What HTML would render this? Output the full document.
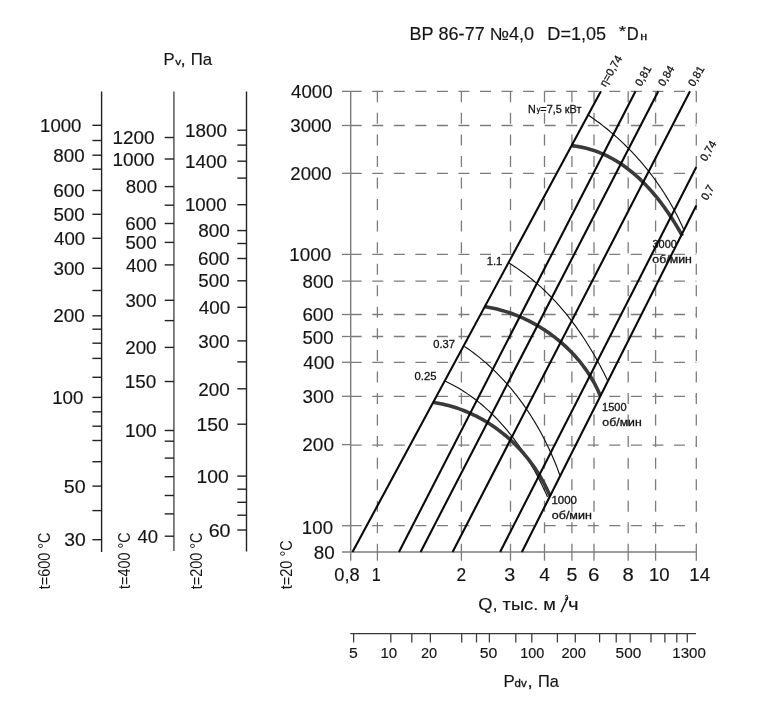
<!DOCTYPE html>
<html><head><meta charset="utf-8"><style>
html,body{margin:0;padding:0;background:#fff;width:759px;height:710px;overflow:hidden}
svg{display:block;will-change:transform}
text{font-family:"Liberation Sans", sans-serif}
</style></head><body>
<svg width="759" height="710" viewBox="0 0 759 710" font-family='"Liberation Sans", sans-serif'>
<rect width="759" height="710" fill="#fff"/>
<line x1="350.70" y1="91.30" x2="696.30" y2="91.30" stroke="#7c7c7c" stroke-width="1.3" stroke-dasharray="11 10.55"/>
<line x1="342.00" y1="91.30" x2="350.70" y2="91.30" stroke="#7c7c7c" stroke-width="1.3" />
<line x1="350.70" y1="125.50" x2="696.30" y2="125.50" stroke="#7c7c7c" stroke-width="1.3" stroke-dasharray="11 10.55"/>
<line x1="342.00" y1="125.50" x2="350.70" y2="125.50" stroke="#7c7c7c" stroke-width="1.3" />
<line x1="350.70" y1="173.30" x2="696.30" y2="173.30" stroke="#7c7c7c" stroke-width="1.3" stroke-dasharray="11 10.55"/>
<line x1="342.00" y1="173.30" x2="350.70" y2="173.30" stroke="#7c7c7c" stroke-width="1.3" />
<line x1="350.70" y1="254.40" x2="696.30" y2="254.40" stroke="#7c7c7c" stroke-width="1.3" stroke-dasharray="11 10.55"/>
<line x1="342.00" y1="254.40" x2="350.70" y2="254.40" stroke="#7c7c7c" stroke-width="1.3" />
<line x1="350.70" y1="281.10" x2="696.30" y2="281.10" stroke="#7c7c7c" stroke-width="1.3" stroke-dasharray="11 10.55"/>
<line x1="342.00" y1="281.10" x2="350.70" y2="281.10" stroke="#7c7c7c" stroke-width="1.3" />
<line x1="350.70" y1="314.50" x2="696.30" y2="314.50" stroke="#7c7c7c" stroke-width="1.3" stroke-dasharray="11 10.55"/>
<line x1="342.00" y1="314.50" x2="350.70" y2="314.50" stroke="#7c7c7c" stroke-width="1.3" />
<line x1="350.70" y1="336.50" x2="696.30" y2="336.50" stroke="#7c7c7c" stroke-width="1.3" stroke-dasharray="11 10.55"/>
<line x1="342.00" y1="336.50" x2="350.70" y2="336.50" stroke="#7c7c7c" stroke-width="1.3" />
<line x1="350.70" y1="362.30" x2="696.30" y2="362.30" stroke="#7c7c7c" stroke-width="1.3" stroke-dasharray="11 10.55"/>
<line x1="342.00" y1="362.30" x2="350.70" y2="362.30" stroke="#7c7c7c" stroke-width="1.3" />
<line x1="350.70" y1="396.30" x2="696.30" y2="396.30" stroke="#7c7c7c" stroke-width="1.3" stroke-dasharray="11 10.55"/>
<line x1="342.00" y1="396.30" x2="350.70" y2="396.30" stroke="#7c7c7c" stroke-width="1.3" />
<line x1="350.70" y1="445.10" x2="696.30" y2="445.10" stroke="#7c7c7c" stroke-width="1.3" stroke-dasharray="11 10.55"/>
<line x1="342.00" y1="444.60" x2="350.70" y2="444.60" stroke="#7c7c7c" stroke-width="1.3" />
<line x1="350.70" y1="525.70" x2="696.30" y2="525.70" stroke="#7c7c7c" stroke-width="1.3" stroke-dasharray="11 10.55"/>
<line x1="342.00" y1="525.70" x2="350.70" y2="525.70" stroke="#7c7c7c" stroke-width="1.3" />
<line x1="377.40" y1="91.30" x2="377.40" y2="552.00" stroke="#7c7c7c" stroke-width="1.3" stroke-dasharray="11 10.55"/>
<line x1="377.40" y1="552.00" x2="377.40" y2="560.70" stroke="#7c7c7c" stroke-width="1.3" />
<line x1="461.40" y1="91.30" x2="461.40" y2="552.00" stroke="#7c7c7c" stroke-width="1.3" stroke-dasharray="11 10.55"/>
<line x1="461.40" y1="552.00" x2="461.40" y2="560.70" stroke="#7c7c7c" stroke-width="1.3" />
<line x1="510.50" y1="91.30" x2="510.50" y2="552.00" stroke="#7c7c7c" stroke-width="1.3" stroke-dasharray="11 10.55"/>
<line x1="510.50" y1="552.00" x2="510.50" y2="560.70" stroke="#7c7c7c" stroke-width="1.3" />
<line x1="544.50" y1="91.30" x2="544.50" y2="552.00" stroke="#7c7c7c" stroke-width="1.3" stroke-dasharray="11 10.55"/>
<line x1="544.50" y1="552.00" x2="544.50" y2="560.70" stroke="#7c7c7c" stroke-width="1.3" />
<line x1="571.90" y1="91.30" x2="571.90" y2="552.00" stroke="#7c7c7c" stroke-width="1.3" stroke-dasharray="11 10.55"/>
<line x1="571.90" y1="552.00" x2="571.90" y2="560.70" stroke="#7c7c7c" stroke-width="1.3" />
<line x1="594.00" y1="91.30" x2="594.00" y2="552.00" stroke="#7c7c7c" stroke-width="1.3" stroke-dasharray="11 10.55"/>
<line x1="594.00" y1="552.00" x2="594.00" y2="560.70" stroke="#7c7c7c" stroke-width="1.3" />
<line x1="628.20" y1="91.30" x2="628.20" y2="552.00" stroke="#7c7c7c" stroke-width="1.3" stroke-dasharray="11 10.55"/>
<line x1="628.20" y1="552.00" x2="628.20" y2="560.70" stroke="#7c7c7c" stroke-width="1.3" />
<line x1="655.60" y1="91.30" x2="655.60" y2="552.00" stroke="#7c7c7c" stroke-width="1.3" stroke-dasharray="11 10.55"/>
<line x1="655.60" y1="552.00" x2="655.60" y2="560.70" stroke="#7c7c7c" stroke-width="1.3" />
<line x1="696.30" y1="91.30" x2="696.30" y2="552.00" stroke="#7c7c7c" stroke-width="1.3" stroke-dasharray="11 10.55"/>
<line x1="696.30" y1="552.00" x2="696.30" y2="560.70" stroke="#7c7c7c" stroke-width="1.3" />
<line x1="350.70" y1="91.30" x2="350.70" y2="560.70" stroke="#7c7c7c" stroke-width="1.4" />
<line x1="342.00" y1="552.00" x2="696.30" y2="552.00" stroke="#7c7c7c" stroke-width="1.6" />
<path d="M588.21,115.01 L590.33,116.46 L592.45,117.93 L594.54,119.42 L596.63,120.94 L598.70,122.47 L600.75,124.02 L602.79,125.60 L604.81,127.19 L606.82,128.80 L608.81,130.44 L610.78,132.09 L612.74,133.76 L614.68,135.45 L616.61,137.16 L618.52,138.88 L620.41,140.63 L622.29,142.39 L624.15,144.17 L625.99,145.97 L627.82,147.78 L629.63,149.62 L631.42,151.47 L633.19,153.34 L634.95,155.22 L636.69,157.12 L638.41,159.04 L640.11,160.97 L641.79,162.92 L643.45,164.89 L645.10,166.87 L646.73,168.86 L648.34,170.87 L649.92,172.90 L651.49,174.94 L653.04,177.00 L654.58,179.07 L656.09,181.15 L657.58,183.25 L659.05,185.37 L660.50,187.49 L661.93,189.63 L663.34,191.79 L664.73,193.95 L666.10,196.13 L667.45,198.33 L668.78,200.53 L670.08,202.75 L671.37,204.98 L672.63,207.22 L673.87,209.48 L675.09,211.74 L676.29,214.02 L677.46,216.31 L678.62,218.61 L679.75,220.92 L680.86,223.24 L681.94,225.57 L683.01,227.92 L684.05,230.27" fill="none" stroke="#111" stroke-width="1.15" stroke-linejoin="round"/>
<path d="M508.76,262.87 L511.03,264.27 L513.27,265.70 L515.49,267.16 L517.68,268.64 L519.86,270.16 L522.01,271.69 L524.14,273.26 L526.25,274.85 L528.34,276.46 L530.40,278.10 L532.45,279.76 L534.47,281.45 L536.47,283.16 L538.45,284.90 L540.41,286.65 L542.35,288.43 L544.27,290.23 L546.17,292.06 L548.05,293.90 L549.90,295.77 L551.74,297.65 L553.56,299.56 L555.35,301.48 L557.13,303.42 L558.89,305.39 L560.62,307.37 L562.34,309.37 L564.04,311.38 L565.72,313.41 L567.37,315.46 L569.01,317.53 L570.63,319.61 L572.24,321.71 L573.82,323.82 L575.38,325.95 L576.93,328.09 L578.45,330.25 L579.96,332.42 L581.45,334.60 L582.92,336.80 L584.37,339.01 L585.81,341.23 L587.23,343.46 L588.62,345.70 L590.01,347.96 L591.37,350.22 L592.72,352.49 L594.04,354.78 L595.36,357.07 L596.65,359.37 L597.93,361.68 L599.19,364.00 L600.43,366.32 L601.66,368.66 L602.87,371.00 L604.06,373.34 L605.24,375.70 L606.40,378.05 L607.54,380.42" fill="none" stroke="#111" stroke-width="1.15" stroke-linejoin="round"/>
<path d="M464.45,346.46 L466.73,347.99 L468.98,349.55 L471.22,351.15 L473.43,352.77 L475.62,354.43 L477.79,356.12 L479.94,357.83 L482.06,359.58 L484.17,361.36 L486.25,363.16 L488.31,364.99 L490.35,366.85 L492.37,368.74 L494.36,370.65 L496.34,372.59 L498.29,374.55 L500.22,376.54 L502.12,378.55 L504.01,380.58 L505.87,382.64 L507.70,384.72 L509.52,386.83 L511.31,388.95 L513.08,391.10 L514.83,393.27 L516.55,395.46 L518.25,397.66 L519.93,399.89 L521.59,402.13 L523.22,404.40 L524.82,406.68 L526.41,408.98 L527.97,411.29 L529.50,413.62 L531.02,415.96 L532.50,418.33 L533.97,420.70 L535.41,423.09 L536.83,425.49 L538.22,427.91 L539.59,430.33 L540.93,432.77 L542.25,435.22 L543.55,437.69 L544.82,440.16 L546.06,442.64 L547.28,445.13 L548.48,447.63 L549.65,450.14 L550.80,452.65 L551.92,455.18 L553.02,457.71 L554.09,460.24 L555.13,462.79 L556.15,465.33 L557.15,467.88 L558.12,470.44 L559.06,473.00 L559.98,475.56" fill="none" stroke="#111" stroke-width="1.15" stroke-linejoin="round"/>
<path d="M445.05,381.04 L447.48,382.20 L449.90,383.40 L452.28,384.64 L454.64,385.92 L456.98,387.24 L459.29,388.59 L461.57,389.99 L463.83,391.41 L466.07,392.88 L468.28,394.38 L470.47,395.91 L472.63,397.48 L474.77,399.08 L476.88,400.71 L478.97,402.38 L481.04,404.07 L483.08,405.80 L485.10,407.56 L487.09,409.34 L489.06,411.16 L491.00,413.00 L492.92,414.86 L494.82,416.76 L496.69,418.68 L498.54,420.63 L500.36,422.60 L502.16,424.59 L503.94,426.61 L505.69,428.65 L507.42,430.71 L509.13,432.79 L510.81,434.89 L512.47,437.02 L514.10,439.16 L515.72,441.32 L517.31,443.50 L518.87,445.69 L520.41,447.90 L521.93,450.13 L523.43,452.38 L524.90,454.63 L526.35,456.90 L527.78,459.19 L529.18,461.49 L530.56,463.80 L531.92,466.12 L533.26,468.45 L534.57,470.79 L535.86,473.14 L537.13,475.50 L538.37,477.87 L539.60,480.24 L540.80,482.62 L541.98,485.01 L543.13,487.40 L544.26,489.80 L545.37,492.20 L546.46,494.60 L547.53,497.01" fill="none" stroke="#111" stroke-width="1.15" stroke-linejoin="round"/>
<path d="M571.04,145.58 L573.66,145.87 L576.26,146.23 L578.83,146.65 L581.38,147.13 L583.90,147.67 L586.39,148.27 L588.85,148.93 L591.29,149.65 L593.70,150.42 L596.09,151.25 L598.44,152.14 L600.78,153.07 L603.08,154.06 L605.36,155.10 L607.61,156.19 L609.84,157.33 L612.04,158.51 L614.22,159.74 L616.37,161.02 L618.49,162.34 L620.59,163.70 L622.66,165.10 L624.71,166.55 L626.74,168.03 L628.73,169.56 L630.71,171.11 L632.65,172.71 L634.58,174.34 L636.48,176.00 L638.35,177.70 L640.20,179.43 L642.02,181.19 L643.82,182.98 L645.60,184.79 L647.35,186.63 L649.08,188.50 L650.78,190.39 L652.46,192.31 L654.12,194.25 L655.75,196.21 L657.36,198.19 L658.94,200.19 L660.51,202.20 L662.05,204.24 L663.56,206.29 L665.05,208.35 L666.52,210.43 L667.97,212.52 L669.39,214.62 L670.79,216.73 L672.17,218.84 L673.52,220.97 L674.86,223.10 L676.17,225.24 L677.46,227.38 L678.72,229.53 L679.97,231.67 L681.19,233.82 L682.39,235.97" fill="none" stroke="#3a3a3a" stroke-width="3.6" stroke-linecap="butt" stroke-linejoin="round"/>
<path d="M484.41,306.59 L486.93,306.99 L489.44,307.44 L491.94,307.94 L494.44,308.48 L496.94,309.07 L499.42,309.71 L501.90,310.39 L504.37,311.11 L506.84,311.88 L509.29,312.70 L511.73,313.55 L514.15,314.45 L516.57,315.40 L518.97,316.38 L521.36,317.41 L523.73,318.48 L526.09,319.59 L528.43,320.73 L530.75,321.92 L533.06,323.15 L535.34,324.41 L537.61,325.71 L539.86,327.05 L542.08,328.43 L544.28,329.85 L546.46,331.29 L548.62,332.78 L550.75,334.30 L552.86,335.85 L554.94,337.44 L556.99,339.06 L559.02,340.72 L561.01,342.41 L562.98,344.13 L564.92,345.88 L566.83,347.66 L568.70,349.47 L570.55,351.31 L572.36,353.18 L574.13,355.08 L575.88,357.01 L577.58,358.97 L579.25,360.96 L580.89,362.97 L582.48,365.00 L584.04,367.07 L585.55,369.16 L587.03,371.27 L588.47,373.41 L589.86,375.57 L591.21,377.76 L592.52,379.97 L593.78,382.20 L595.00,384.46 L596.18,386.73 L597.30,389.03 L598.38,391.34 L599.41,393.68 L600.39,396.04" fill="none" stroke="#3a3a3a" stroke-width="3.6" stroke-linecap="butt" stroke-linejoin="round"/>
<path d="M432.78,402.32 L435.44,402.73 L438.09,403.19 L440.72,403.70 L443.33,404.26 L445.94,404.88 L448.52,405.54 L451.09,406.25 L453.64,407.01 L456.18,407.82 L458.69,408.67 L461.19,409.57 L463.67,410.52 L466.13,411.51 L468.57,412.55 L470.99,413.63 L473.38,414.76 L475.76,415.93 L478.11,417.14 L480.45,418.39 L482.76,419.68 L485.04,421.02 L487.30,422.39 L489.54,423.81 L491.76,425.26 L493.95,426.75 L496.11,428.28 L498.25,429.85 L500.36,431.45 L502.44,433.09 L504.50,434.76 L506.52,436.47 L508.52,438.21 L510.49,439.99 L512.44,441.80 L514.35,443.64 L516.23,445.51 L518.08,447.42 L519.90,449.35 L521.68,451.32 L523.44,453.31 L525.16,455.34 L526.85,457.39 L528.51,459.47 L530.13,461.58 L531.72,463.71 L533.27,465.87 L534.79,468.05 L536.27,470.26 L537.71,472.49 L539.12,474.75 L540.49,477.03 L541.82,479.33 L543.11,481.66 L544.37,484.00 L545.58,486.37 L546.76,488.75 L547.89,491.15 L548.99,493.58 L550.04,496.02" fill="none" stroke="#3a3a3a" stroke-width="3.6" stroke-linecap="butt" stroke-linejoin="round"/>
<line x1="352.50" y1="552.00" x2="600.90" y2="91.30" stroke="#0a0a0a" stroke-width="2.1" stroke-linecap="butt"/>
<line x1="399.00" y1="552.00" x2="635.50" y2="91.30" stroke="#0a0a0a" stroke-width="2.1" stroke-linecap="butt"/>
<line x1="420.60" y1="552.00" x2="658.30" y2="91.30" stroke="#0a0a0a" stroke-width="2.1" stroke-linecap="butt"/>
<line x1="452.60" y1="552.00" x2="690.00" y2="91.30" stroke="#0a0a0a" stroke-width="2.1" stroke-linecap="butt"/>
<line x1="500.10" y1="552.00" x2="696.30" y2="167.00" stroke="#0a0a0a" stroke-width="2.1" stroke-linecap="butt"/>
<line x1="521.90" y1="552.00" x2="696.30" y2="205.50" stroke="#0a0a0a" stroke-width="2.1" stroke-linecap="butt"/>
<line x1="101.60" y1="91.50" x2="101.60" y2="552.00" stroke="#222222" stroke-width="1.4" />
<line x1="92.40" y1="125.30" x2="101.60" y2="125.30" stroke="#222222" stroke-width="1.4" />
<line x1="92.40" y1="140.50" x2="101.60" y2="140.50" stroke="#222222" stroke-width="1.4" />
<line x1="92.40" y1="155.20" x2="101.60" y2="155.20" stroke="#222222" stroke-width="1.4" />
<line x1="92.40" y1="169.20" x2="101.60" y2="169.20" stroke="#222222" stroke-width="1.4" />
<line x1="92.40" y1="190.50" x2="101.60" y2="190.50" stroke="#222222" stroke-width="1.4" />
<line x1="92.40" y1="214.30" x2="101.60" y2="214.30" stroke="#222222" stroke-width="1.4" />
<line x1="92.40" y1="238.30" x2="101.60" y2="238.30" stroke="#222222" stroke-width="1.4" />
<line x1="92.40" y1="268.30" x2="101.60" y2="268.30" stroke="#222222" stroke-width="1.4" />
<line x1="92.40" y1="290.50" x2="101.60" y2="290.50" stroke="#222222" stroke-width="1.4" />
<line x1="92.40" y1="315.80" x2="101.60" y2="315.80" stroke="#222222" stroke-width="1.4" />
<line x1="92.40" y1="329.20" x2="101.60" y2="329.20" stroke="#222222" stroke-width="1.4" />
<line x1="92.40" y1="343.20" x2="101.60" y2="343.20" stroke="#222222" stroke-width="1.4" />
<line x1="92.40" y1="358.40" x2="101.60" y2="358.40" stroke="#222222" stroke-width="1.4" />
<line x1="92.40" y1="377.30" x2="101.60" y2="377.30" stroke="#222222" stroke-width="1.4" />
<line x1="92.40" y1="397.40" x2="101.60" y2="397.40" stroke="#222222" stroke-width="1.4" />
<line x1="92.40" y1="411.80" x2="101.60" y2="411.80" stroke="#222222" stroke-width="1.4" />
<line x1="92.40" y1="426.20" x2="101.60" y2="426.20" stroke="#222222" stroke-width="1.4" />
<line x1="92.40" y1="440.50" x2="101.60" y2="440.50" stroke="#222222" stroke-width="1.4" />
<line x1="92.40" y1="461.70" x2="101.60" y2="461.70" stroke="#222222" stroke-width="1.4" />
<line x1="92.40" y1="486.10" x2="101.60" y2="486.10" stroke="#222222" stroke-width="1.4" />
<line x1="92.40" y1="510.60" x2="101.60" y2="510.60" stroke="#222222" stroke-width="1.4" />
<line x1="92.40" y1="539.70" x2="101.60" y2="539.70" stroke="#222222" stroke-width="1.4" />
<line x1="173.90" y1="91.50" x2="173.90" y2="551.00" stroke="#6c6c6c" stroke-width="1.7" />
<line x1="164.70" y1="137.50" x2="173.90" y2="137.50" stroke="#222222" stroke-width="1.4" />
<line x1="164.70" y1="159.00" x2="173.90" y2="159.00" stroke="#222222" stroke-width="1.4" />
<line x1="164.70" y1="186.60" x2="173.90" y2="186.60" stroke="#222222" stroke-width="1.4" />
<line x1="164.70" y1="205.20" x2="173.90" y2="205.20" stroke="#222222" stroke-width="1.4" />
<line x1="164.70" y1="223.50" x2="173.90" y2="223.50" stroke="#222222" stroke-width="1.4" />
<line x1="164.70" y1="242.40" x2="173.90" y2="242.40" stroke="#222222" stroke-width="1.4" />
<line x1="164.70" y1="264.90" x2="173.90" y2="264.90" stroke="#222222" stroke-width="1.4" />
<line x1="164.70" y1="300.30" x2="173.90" y2="300.30" stroke="#222222" stroke-width="1.4" />
<line x1="164.70" y1="320.60" x2="173.90" y2="320.60" stroke="#222222" stroke-width="1.4" />
<line x1="164.70" y1="347.40" x2="173.90" y2="347.40" stroke="#222222" stroke-width="1.4" />
<line x1="164.70" y1="381.50" x2="173.90" y2="381.50" stroke="#222222" stroke-width="1.4" />
<line x1="164.70" y1="430.50" x2="173.90" y2="430.50" stroke="#222222" stroke-width="1.4" />
<line x1="164.70" y1="441.20" x2="173.90" y2="441.20" stroke="#222222" stroke-width="1.4" />
<line x1="164.70" y1="458.10" x2="173.90" y2="458.10" stroke="#222222" stroke-width="1.4" />
<line x1="164.70" y1="476.70" x2="173.90" y2="476.70" stroke="#222222" stroke-width="1.4" />
<line x1="164.70" y1="495.50" x2="173.90" y2="495.50" stroke="#222222" stroke-width="1.4" />
<line x1="164.70" y1="513.90" x2="173.90" y2="513.90" stroke="#222222" stroke-width="1.4" />
<line x1="164.70" y1="536.20" x2="173.90" y2="536.20" stroke="#222222" stroke-width="1.4" />
<line x1="246.50" y1="91.50" x2="246.50" y2="551.60" stroke="#222222" stroke-width="1.4" />
<line x1="237.30" y1="130.20" x2="246.50" y2="130.20" stroke="#222222" stroke-width="1.4" />
<line x1="237.30" y1="145.10" x2="246.50" y2="145.10" stroke="#222222" stroke-width="1.4" />
<line x1="237.30" y1="161.20" x2="246.50" y2="161.20" stroke="#222222" stroke-width="1.4" />
<line x1="237.30" y1="178.10" x2="246.50" y2="178.10" stroke="#222222" stroke-width="1.4" />
<line x1="237.30" y1="204.70" x2="246.50" y2="204.70" stroke="#222222" stroke-width="1.4" />
<line x1="237.30" y1="230.60" x2="246.50" y2="230.60" stroke="#222222" stroke-width="1.4" />
<line x1="237.30" y1="243.50" x2="246.50" y2="243.50" stroke="#222222" stroke-width="1.4" />
<line x1="237.30" y1="258.50" x2="246.50" y2="258.50" stroke="#222222" stroke-width="1.4" />
<line x1="237.30" y1="280.80" x2="246.50" y2="280.80" stroke="#222222" stroke-width="1.4" />
<line x1="237.30" y1="307.30" x2="246.50" y2="307.30" stroke="#222222" stroke-width="1.4" />
<line x1="237.30" y1="340.90" x2="246.50" y2="340.90" stroke="#222222" stroke-width="1.4" />
<line x1="237.30" y1="361.90" x2="246.50" y2="361.90" stroke="#222222" stroke-width="1.4" />
<line x1="237.30" y1="388.80" x2="246.50" y2="388.80" stroke="#222222" stroke-width="1.4" />
<line x1="237.30" y1="424.20" x2="246.50" y2="424.20" stroke="#222222" stroke-width="1.4" />
<line x1="237.30" y1="476.10" x2="246.50" y2="476.10" stroke="#222222" stroke-width="1.4" />
<line x1="237.30" y1="489.20" x2="246.50" y2="489.20" stroke="#222222" stroke-width="1.4" />
<line x1="237.30" y1="502.30" x2="246.50" y2="502.30" stroke="#222222" stroke-width="1.4" />
<line x1="237.30" y1="515.20" x2="246.50" y2="515.20" stroke="#222222" stroke-width="1.4" />
<line x1="237.30" y1="530.00" x2="246.50" y2="530.00" stroke="#222222" stroke-width="1.4" />
<text x="40.08" y="131.90" font-size="17.6" textLength="41.34" lengthAdjust="spacingAndGlyphs" fill="#141414" stroke="#141414" stroke-width="0.15" >1000</text>
<text x="53.38" y="161.50" font-size="17.6" textLength="31.35" lengthAdjust="spacingAndGlyphs" fill="#141414" stroke="#141414" stroke-width="0.15" >800</text>
<text x="53.24" y="197.30" font-size="17.6" textLength="31.50" lengthAdjust="spacingAndGlyphs" fill="#141414" stroke="#141414" stroke-width="0.15" >600</text>
<text x="53.45" y="220.60" font-size="17.6" textLength="31.28" lengthAdjust="spacingAndGlyphs" fill="#141414" stroke="#141414" stroke-width="0.15" >500</text>
<text x="54.07" y="244.60" font-size="17.6" textLength="31.05" lengthAdjust="spacingAndGlyphs" fill="#141414" stroke="#141414" stroke-width="0.15" >400</text>
<text x="53.49" y="275.00" font-size="17.6" textLength="31.24" lengthAdjust="spacingAndGlyphs" fill="#141414" stroke="#141414" stroke-width="0.15" >300</text>
<text x="53.25" y="322.40" font-size="17.6" textLength="31.49" lengthAdjust="spacingAndGlyphs" fill="#141414" stroke="#141414" stroke-width="0.15" >200</text>
<text x="52.17" y="404.20" font-size="17.6" textLength="31.26" lengthAdjust="spacingAndGlyphs" fill="#141414" stroke="#141414" stroke-width="0.15" >100</text>
<text x="63.81" y="492.80" font-size="17.6" textLength="21.85" lengthAdjust="spacingAndGlyphs" fill="#141414" stroke="#141414" stroke-width="0.15" >50</text>
<text x="64.26" y="546.40" font-size="17.6" textLength="21.49" lengthAdjust="spacingAndGlyphs" fill="#141414" stroke="#141414" stroke-width="0.15" >30</text>
<text x="112.46" y="144.30" font-size="17.6" textLength="42.08" lengthAdjust="spacingAndGlyphs" fill="#141414" stroke="#141414" stroke-width="0.15" >1200</text>
<text x="112.46" y="165.80" font-size="17.6" textLength="42.08" lengthAdjust="spacingAndGlyphs" fill="#141414" stroke="#141414" stroke-width="0.15" >1000</text>
<text x="125.89" y="193.20" font-size="17.6" textLength="31.14" lengthAdjust="spacingAndGlyphs" fill="#141414" stroke="#141414" stroke-width="0.15" >800</text>
<text x="125.25" y="230.10" font-size="17.6" textLength="31.28" lengthAdjust="spacingAndGlyphs" fill="#141414" stroke="#141414" stroke-width="0.15" >600</text>
<text x="125.45" y="249.00" font-size="17.6" textLength="31.07" lengthAdjust="spacingAndGlyphs" fill="#141414" stroke="#141414" stroke-width="0.15" >500</text>
<text x="126.08" y="271.50" font-size="17.6" textLength="30.85" lengthAdjust="spacingAndGlyphs" fill="#141414" stroke="#141414" stroke-width="0.15" >400</text>
<text x="125.49" y="306.90" font-size="17.6" textLength="31.04" lengthAdjust="spacingAndGlyphs" fill="#141414" stroke="#141414" stroke-width="0.15" >300</text>
<text x="125.26" y="354.00" font-size="17.6" textLength="31.27" lengthAdjust="spacingAndGlyphs" fill="#141414" stroke="#141414" stroke-width="0.15" >200</text>
<text x="124.76" y="388.10" font-size="17.6" textLength="31.58" lengthAdjust="spacingAndGlyphs" fill="#141414" stroke="#141414" stroke-width="0.15" >150</text>
<text x="124.95" y="437.20" font-size="17.6" textLength="31.69" lengthAdjust="spacingAndGlyphs" fill="#141414" stroke="#141414" stroke-width="0.15" >100</text>
<text x="137.58" y="542.70" font-size="17.6" textLength="20.55" lengthAdjust="spacingAndGlyphs" fill="#141414" stroke="#141414" stroke-width="0.15" >40</text>
<text x="184.96" y="137.10" font-size="17.6" textLength="41.97" lengthAdjust="spacingAndGlyphs" fill="#141414" stroke="#141414" stroke-width="0.15" >1800</text>
<text x="184.96" y="167.80" font-size="17.6" textLength="41.97" lengthAdjust="spacingAndGlyphs" fill="#141414" stroke="#141414" stroke-width="0.15" >1400</text>
<text x="184.98" y="211.00" font-size="17.6" textLength="41.55" lengthAdjust="spacingAndGlyphs" fill="#141414" stroke="#141414" stroke-width="0.15" >1000</text>
<text x="198.28" y="236.60" font-size="17.6" textLength="31.67" lengthAdjust="spacingAndGlyphs" fill="#141414" stroke="#141414" stroke-width="0.15" >800</text>
<text x="198.14" y="264.80" font-size="17.6" textLength="31.50" lengthAdjust="spacingAndGlyphs" fill="#141414" stroke="#141414" stroke-width="0.15" >600</text>
<text x="198.35" y="287.20" font-size="17.6" textLength="31.28" lengthAdjust="spacingAndGlyphs" fill="#141414" stroke="#141414" stroke-width="0.15" >500</text>
<text x="198.67" y="313.90" font-size="17.6" textLength="31.47" lengthAdjust="spacingAndGlyphs" fill="#141414" stroke="#141414" stroke-width="0.15" >400</text>
<text x="198.39" y="347.80" font-size="17.6" textLength="31.24" lengthAdjust="spacingAndGlyphs" fill="#141414" stroke="#141414" stroke-width="0.15" >300</text>
<text x="198.15" y="396.00" font-size="17.6" textLength="31.49" lengthAdjust="spacingAndGlyphs" fill="#141414" stroke="#141414" stroke-width="0.15" >200</text>
<text x="196.63" y="430.90" font-size="17.6" textLength="32.23" lengthAdjust="spacingAndGlyphs" fill="#141414" stroke="#141414" stroke-width="0.15" >150</text>
<text x="196.63" y="482.90" font-size="17.6" textLength="32.23" lengthAdjust="spacingAndGlyphs" fill="#141414" stroke="#141414" stroke-width="0.15" >100</text>
<text x="208.70" y="536.70" font-size="17.6" textLength="21.87" lengthAdjust="spacingAndGlyphs" fill="#141414" stroke="#141414" stroke-width="0.15" >60</text>
<text x="291.07" y="98.00" font-size="17.6" textLength="41.46" lengthAdjust="spacingAndGlyphs" fill="#141414" stroke="#141414" stroke-width="0.15" >4000</text>
<text x="290.29" y="132.20" font-size="17.6" textLength="41.44" lengthAdjust="spacingAndGlyphs" fill="#141414" stroke="#141414" stroke-width="0.15" >3000</text>
<text x="290.37" y="180.20" font-size="17.6" textLength="41.15" lengthAdjust="spacingAndGlyphs" fill="#141414" stroke="#141414" stroke-width="0.15" >2000</text>
<text x="289.36" y="261.00" font-size="17.6" textLength="41.97" lengthAdjust="spacingAndGlyphs" fill="#141414" stroke="#141414" stroke-width="0.15" >1000</text>
<text x="302.59" y="287.80" font-size="17.6" textLength="31.14" lengthAdjust="spacingAndGlyphs" fill="#141414" stroke="#141414" stroke-width="0.15" >800</text>
<text x="302.45" y="321.00" font-size="17.6" textLength="31.28" lengthAdjust="spacingAndGlyphs" fill="#141414" stroke="#141414" stroke-width="0.15" >600</text>
<text x="302.45" y="344.40" font-size="17.6" textLength="31.07" lengthAdjust="spacingAndGlyphs" fill="#141414" stroke="#141414" stroke-width="0.15" >500</text>
<text x="303.27" y="369.10" font-size="17.6" textLength="31.16" lengthAdjust="spacingAndGlyphs" fill="#141414" stroke="#141414" stroke-width="0.15" >400</text>
<text x="302.58" y="403.30" font-size="17.6" textLength="31.35" lengthAdjust="spacingAndGlyphs" fill="#141414" stroke="#141414" stroke-width="0.15" >300</text>
<text x="302.35" y="451.10" font-size="17.6" textLength="31.59" lengthAdjust="spacingAndGlyphs" fill="#141414" stroke="#141414" stroke-width="0.15" >200</text>
<text x="301.88" y="533.50" font-size="17.6" textLength="31.15" lengthAdjust="spacingAndGlyphs" fill="#141414" stroke="#141414" stroke-width="0.15" >100</text>
<text x="313.78" y="559.10" font-size="17.6" textLength="20.95" lengthAdjust="spacingAndGlyphs" fill="#141414" stroke="#141414" stroke-width="0.15" >80</text>
<text x="334.39" y="581.40" font-size="17.6" textLength="25.41" lengthAdjust="spacingAndGlyphs" fill="#141414" stroke="#141414" stroke-width="0.15" >0,8</text>
<text x="371.76" y="581.00" font-size="17.6" textLength="9.03" lengthAdjust="spacingAndGlyphs" fill="#141414" stroke="#141414" stroke-width="0.15" >1</text>
<text x="456.43" y="581.00" font-size="17.6" textLength="9.64" lengthAdjust="spacingAndGlyphs" fill="#141414" stroke="#141414" stroke-width="0.15" >2</text>
<text x="504.24" y="581.00" font-size="17.6" textLength="11.03" lengthAdjust="spacingAndGlyphs" fill="#141414" stroke="#141414" stroke-width="0.15" >3</text>
<text x="539.36" y="581.00" font-size="17.6" textLength="10.71" lengthAdjust="spacingAndGlyphs" fill="#141414" stroke="#141414" stroke-width="0.15" >4</text>
<text x="566.61" y="581.00" font-size="17.6" textLength="10.91" lengthAdjust="spacingAndGlyphs" fill="#141414" stroke="#141414" stroke-width="0.15" >5</text>
<text x="587.95" y="581.00" font-size="17.6" textLength="11.45" lengthAdjust="spacingAndGlyphs" fill="#141414" stroke="#141414" stroke-width="0.15" >6</text>
<text x="622.42" y="581.00" font-size="17.6" textLength="11.26" lengthAdjust="spacingAndGlyphs" fill="#141414" stroke="#141414" stroke-width="0.15" >8</text>
<text x="648.99" y="581.00" font-size="17.6" textLength="20.64" lengthAdjust="spacingAndGlyphs" fill="#141414" stroke="#141414" stroke-width="0.15" >10</text>
<text x="689.37" y="581.00" font-size="17.6" textLength="20.88" lengthAdjust="spacingAndGlyphs" fill="#141414" stroke="#141414" stroke-width="0.15" >14</text>
<text transform="translate(49.60,589.22) rotate(-90)" x="0" y="0" font-size="16" textLength="56.77" lengthAdjust="spacingAndGlyphs" fill="#141414">t=600 °C</text>
<text transform="translate(130.00,588.92) rotate(-90)" x="0" y="0" font-size="16" textLength="56.46" lengthAdjust="spacingAndGlyphs" fill="#141414">t=400 °C</text>
<text transform="translate(202.40,589.22) rotate(-90)" x="0" y="0" font-size="16" textLength="56.77" lengthAdjust="spacingAndGlyphs" fill="#141414">t=200 °C</text>
<text transform="translate(292.40,589.22) rotate(-90)" x="0" y="0" font-size="16" textLength="48.97" lengthAdjust="spacingAndGlyphs" fill="#141414">t=20 °C</text>
<line x1="350.30" y1="633.60" x2="696.00" y2="633.60" stroke="#383838" stroke-width="1.25" />
<line x1="353.60" y1="633.60" x2="353.60" y2="642.40" stroke="#383838" stroke-width="1.25" />
<line x1="390.80" y1="633.60" x2="390.80" y2="642.40" stroke="#383838" stroke-width="1.25" />
<line x1="411.80" y1="633.60" x2="411.80" y2="642.40" stroke="#383838" stroke-width="1.25" />
<line x1="430.40" y1="633.60" x2="430.40" y2="642.40" stroke="#383838" stroke-width="1.25" />
<line x1="461.70" y1="633.60" x2="461.70" y2="642.40" stroke="#383838" stroke-width="1.25" />
<line x1="476.50" y1="633.60" x2="476.50" y2="642.40" stroke="#383838" stroke-width="1.25" />
<line x1="489.40" y1="633.60" x2="489.40" y2="642.40" stroke="#383838" stroke-width="1.25" />
<line x1="515.80" y1="633.60" x2="515.80" y2="642.40" stroke="#383838" stroke-width="1.25" />
<line x1="531.80" y1="633.60" x2="531.80" y2="642.40" stroke="#383838" stroke-width="1.25" />
<line x1="557.40" y1="633.60" x2="557.40" y2="642.40" stroke="#383838" stroke-width="1.25" />
<line x1="575.30" y1="633.60" x2="575.30" y2="642.40" stroke="#383838" stroke-width="1.25" />
<line x1="599.60" y1="633.60" x2="599.60" y2="642.40" stroke="#383838" stroke-width="1.25" />
<line x1="616.20" y1="633.60" x2="616.20" y2="642.40" stroke="#383838" stroke-width="1.25" />
<line x1="630.10" y1="633.60" x2="630.10" y2="642.40" stroke="#383838" stroke-width="1.25" />
<line x1="651.00" y1="633.60" x2="651.00" y2="642.40" stroke="#383838" stroke-width="1.25" />
<line x1="664.90" y1="633.60" x2="664.90" y2="642.40" stroke="#383838" stroke-width="1.25" />
<line x1="676.80" y1="633.60" x2="676.80" y2="642.40" stroke="#383838" stroke-width="1.25" />
<line x1="687.30" y1="633.60" x2="687.30" y2="642.40" stroke="#383838" stroke-width="1.25" />
<text x="348.97" y="657.70" font-size="14.5" textLength="8.80" lengthAdjust="spacingAndGlyphs" fill="#141414" stroke="#141414" stroke-width="0.15" >5</text>
<text x="380.45" y="657.70" font-size="14.5" textLength="16.73" lengthAdjust="spacingAndGlyphs" fill="#141414" stroke="#141414" stroke-width="0.15" >10</text>
<text x="420.97" y="657.70" font-size="14.5" textLength="16.20" lengthAdjust="spacingAndGlyphs" fill="#141414" stroke="#141414" stroke-width="0.15" >20</text>
<text x="479.76" y="657.70" font-size="14.5" textLength="17.66" lengthAdjust="spacingAndGlyphs" fill="#141414" stroke="#141414" stroke-width="0.15" >50</text>
<text x="520.20" y="657.70" font-size="14.5" textLength="24.06" lengthAdjust="spacingAndGlyphs" fill="#141414" stroke="#141414" stroke-width="0.15" >100</text>
<text x="561.46" y="657.70" font-size="14.5" textLength="24.51" lengthAdjust="spacingAndGlyphs" fill="#141414" stroke="#141414" stroke-width="0.15" >200</text>
<text x="615.58" y="657.70" font-size="14.5" textLength="25.72" lengthAdjust="spacingAndGlyphs" fill="#141414" stroke="#141414" stroke-width="0.15" >500</text>
<text x="672.25" y="657.70" font-size="14.5" textLength="33.54" lengthAdjust="spacingAndGlyphs" fill="#141414" stroke="#141414" stroke-width="0.15" >1300</text>
<text x="409.52" y="39.80" font-size="17.5" textLength="124.58" lengthAdjust="spacingAndGlyphs" fill="#141414" stroke="#141414" stroke-width="0.15" >ВР 86-77 №4,0</text>
<text x="547.32" y="39.80" font-size="17.5" textLength="58.84" lengthAdjust="spacingAndGlyphs" fill="#141414" stroke="#141414" stroke-width="0.15" >D=1,05</text>
<text x="618.89" y="36.00" font-size="14" textLength="7.40" lengthAdjust="spacingAndGlyphs" fill="#141414" stroke="#141414" stroke-width="0.15" >*</text>
<text x="626.74" y="39.90" font-size="17.8" textLength="11.95" lengthAdjust="spacingAndGlyphs" fill="#141414" stroke="#141414" stroke-width="0.15" >D</text>
<text x="640.23" y="39.90" font-size="10.5" textLength="6.94" lengthAdjust="spacingAndGlyphs" fill="#141414" stroke="#141414" stroke-width="0.3" >н</text>
<text x="163.43" y="64.80" font-size="17" textLength="11.15" lengthAdjust="spacingAndGlyphs" fill="#141414" stroke="#141414" stroke-width="0.15" >P</text>
<text x="175.26" y="64.80" font-size="9.6" textLength="5.88" lengthAdjust="spacingAndGlyphs" fill="#141414" stroke="#141414" stroke-width="0.3" >v</text>
<text x="180.77" y="64.80" font-size="17" fill="#141414" stroke="#141414" stroke-width="0.3">,</text>
<text x="190.84" y="64.80" font-size="17" textLength="21.36" lengthAdjust="spacingAndGlyphs" fill="#141414" stroke="#141414" stroke-width="0.15" >Па</text>
<text x="478.23" y="609.60" font-size="16" textLength="77.72" lengthAdjust="spacingAndGlyphs" fill="#141414" stroke="#141414" stroke-width="0.15" >Q, тыс. м</text>
<line x1="561.00" y1="612.30" x2="567.90" y2="597.00" stroke="#141414" stroke-width="1.5" />
<text x="567.98" y="609.60" font-size="16" textLength="10.64" lengthAdjust="spacingAndGlyphs" fill="#141414" stroke="#141414" stroke-width="0.15" >ч</text>
<text x="564.67" y="599.50" font-size="8" textLength="3.40" lengthAdjust="spacingAndGlyphs" fill="#141414" stroke="#141414" stroke-width="0.3" >3</text>
<text x="503.61" y="686.90" font-size="17" textLength="11.28" lengthAdjust="spacingAndGlyphs" fill="#141414" stroke="#141414" stroke-width="0.15" >P</text>
<text x="514.52" y="686.90" font-size="10.5" textLength="12.12" lengthAdjust="spacingAndGlyphs" fill="#141414" stroke="#141414" stroke-width="0.3" >dv</text>
<text x="527.77" y="686.90" font-size="17" fill="#141414" stroke="#141414" stroke-width="0.3">,</text>
<text x="537.98" y="686.90" font-size="17" textLength="20.82" lengthAdjust="spacingAndGlyphs" fill="#141414" stroke="#141414" stroke-width="0.15" >Па</text>
<text x="528.02" y="112.80" font-size="10.4" textLength="7.76" lengthAdjust="spacingAndGlyphs" fill="#141414" stroke="#141414" stroke-width="0.3" >N</text>
<text x="536.78" y="112.20" font-size="6.5" textLength="3.43" lengthAdjust="spacingAndGlyphs" fill="#141414" stroke="#141414" stroke-width="0.3" >у</text>
<text x="540.37" y="112.80" font-size="10.4" textLength="41.11" lengthAdjust="spacingAndGlyphs" fill="#141414" stroke="#141414" stroke-width="0.3" >=7,5 кВт</text>
<text x="486.65" y="265.40" font-size="10.4" textLength="15.60" lengthAdjust="spacingAndGlyphs" fill="#141414" stroke="#141414" stroke-width="0.3" >1.1</text>
<text x="433.26" y="348.00" font-size="10.4" textLength="21.70" lengthAdjust="spacingAndGlyphs" fill="#141414" stroke="#141414" stroke-width="0.3" >0.37</text>
<text x="414.46" y="380.20" font-size="10.4" textLength="22.02" lengthAdjust="spacingAndGlyphs" fill="#141414" stroke="#141414" stroke-width="0.3" >0.25</text>
<text x="652.48" y="247.60" font-size="10.4" textLength="24.34" lengthAdjust="spacingAndGlyphs" fill="#141414" stroke="#141414" stroke-width="0.3" >3000</text>
<text x="652.38" y="263.40" font-size="10.4" textLength="39.57" lengthAdjust="spacingAndGlyphs" fill="#141414" stroke="#141414" stroke-width="0.3" >об/мин</text>
<text x="602.06" y="410.80" font-size="10.4" textLength="24.47" lengthAdjust="spacingAndGlyphs" fill="#141414" stroke="#141414" stroke-width="0.3" >1500</text>
<text x="602.38" y="425.80" font-size="10.4" textLength="39.37" lengthAdjust="spacingAndGlyphs" fill="#141414" stroke="#141414" stroke-width="0.3" >об/мин</text>
<text x="551.43" y="503.60" font-size="10.4" textLength="25.52" lengthAdjust="spacingAndGlyphs" fill="#141414" stroke="#141414" stroke-width="0.3" >1000</text>
<text x="551.77" y="519.40" font-size="10.4" textLength="40.09" lengthAdjust="spacingAndGlyphs" fill="#141414" stroke="#141414" stroke-width="0.3" >об/мин</text>
<text transform="translate(605.50,87.50) rotate(-60)" x="0" y="0" font-size="11" fill="#141414" stroke="#141414" stroke-width="0.3">η=0,74</text>
<text transform="translate(641.00,87.00) rotate(-60)" x="0" y="0" font-size="11" fill="#141414" stroke="#141414" stroke-width="0.3">0,81</text>
<text transform="translate(664.00,87.00) rotate(-60)" x="0" y="0" font-size="11" fill="#141414" stroke="#141414" stroke-width="0.3">0,84</text>
<text transform="translate(694.00,87.30) rotate(-60)" x="0" y="0" font-size="11" fill="#141414" stroke="#141414" stroke-width="0.3">0,81</text>
<text transform="translate(706.00,162.00) rotate(-60)" x="0" y="0" font-size="11" fill="#141414" stroke="#141414" stroke-width="0.3">0,74</text>
<text transform="translate(707.00,201.00) rotate(-60)" x="0" y="0" font-size="11" fill="#141414" stroke="#141414" stroke-width="0.3">0,7</text>
</svg>
</body></html>
